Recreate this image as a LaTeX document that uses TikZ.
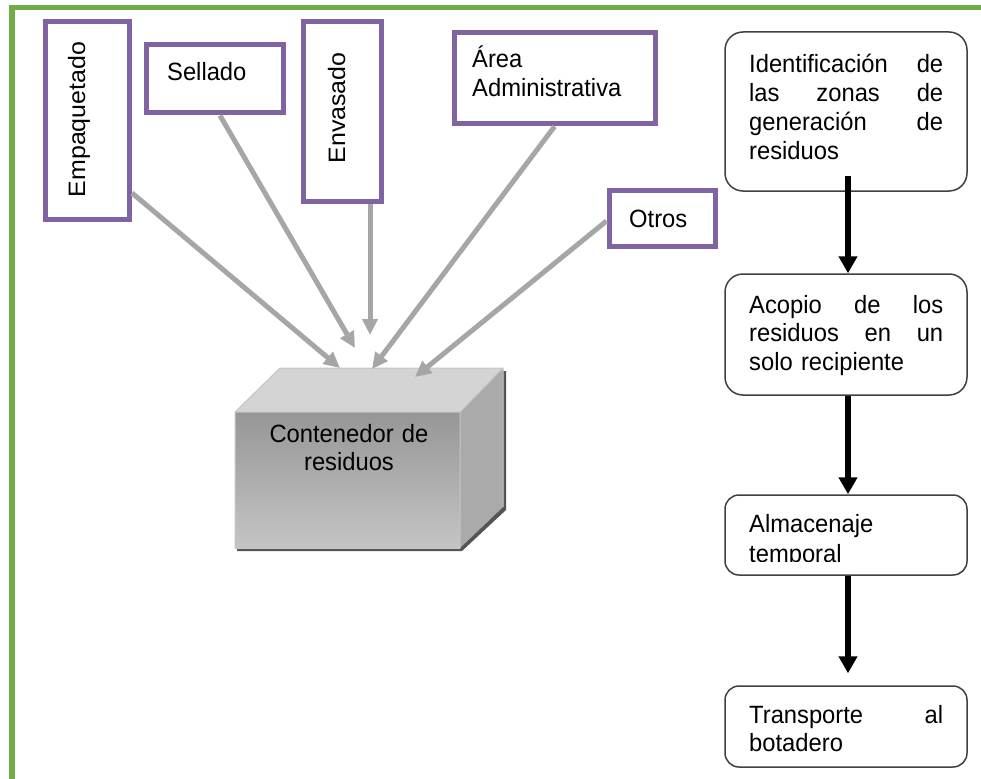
\documentclass[tikz,border=0pt]{standalone}
\usepackage{fontspec}
\setmainfont{Liberation Sans}
\newfontfamily\hf[FakeStretch=0.95]{Liberation Sans}
\newfontfamily\vf[FakeStretch=1.05]{Liberation Sans}
\usetikzlibrary{arrows.meta}

\definecolor{framegreen}{RGB}{112,173,71}
\definecolor{areapurple}{RGB}{128,100,162}
\definecolor{feedgray}{RGB}{166,166,166}
\definecolor{flowline}{RGB}{64,64,64}
\definecolor{boxtop}{RGB}{212,212,212}
\definecolor{boxside}{RGB}{170,170,170}
\definecolor{boxshadow}{RGB}{85,85,85}

\tikzset{
  srcbox/.style={draw=areapurple, line width=5pt, fill=white, inner sep=0pt},
  htext/.style={font=\hf\fontsize{25}{28.7}\selectfont, inner sep=0pt},
  vtext/.style={font=\vf\fontsize{23.75}{28}\selectfont, inner sep=0pt, rotate=90, anchor=base},
  flowbox/.style={draw=flowline, line width=1.5pt, fill=white, minimum width=242pt, inner sep=0pt},
  flowtext/.style={htext, text width=194pt, align=left, anchor=base west},
  feedarrow/.style={draw=feedgray, line width=5pt, -{Triangle[length=16pt,width=15pt]}},
  steparrow/.style={draw=black, line width=6pt, -{Triangle[length=17pt,width=18pt]}},
}

\begin{document}
\begin{tikzpicture}[x=1pt,y=-1pt]
\useasboundingbox (0,0) rectangle (981,778);
\fill[white] (0,0) rectangle (981,778);

% open green frame
\draw[framegreen, line width=5.5pt, line join=miter] (12,790) -- (12,7.5) -- (995,7.5);

% waste sources
\node[srcbox, minimum width=84pt, minimum height=198pt] (emp) at (87.5,120.5) {};
\node[vtext] (empt) at (85,119.5) {Empaquetado};

\node[srcbox, minimum width=137pt, minimum height=68pt] (sel) at (214.5,79) {};
\node[htext, anchor=base west] (selt) at (167,81) {Sellado};

\node[srcbox, minimum width=78pt, minimum height=179pt] (env) at (342,111.5) {};
\node[vtext] (envt) at (345,108) {Envasado};

\node[srcbox, minimum width=201pt, minimum height=91pt] (area) at (554.5,78.5) {};
\node[htext, text width=180pt, align=left, anchor=base west] (areat) at (472,68) {Área\\Administrativa};

\node[srcbox, minimum width=106pt, minimum height=56pt] (otros) at (662,218) {};
\node[htext, anchor=base west] (otrost) at (629,227) {Otros};

% waste container (box drawn in perspective)
\fill[boxshadow] (237,415) -- (282,371) -- (506,371) -- (506,510) -- (462,551) -- (237,551) -- cycle;
\fill[boxtop] (235,412) -- (280,368) -- (503,368) -- (460,412) -- cycle;
\shade[top color=black!41, bottom color=black!23] (235,412) rectangle (460,548);
\fill[boxside] (460,412) -- (503,368) -- (503,507) -- (460,548) -- cycle;
\draw[black!22, line width=1pt, line join=round] (235,548) -- (235,412) -- (460,412) -- (460,548)
  (235,412) -- (280,368) -- (503,368) -- (460,412) (503,368) -- (503,507);
\node[htext, text width=225pt, align=center, anchor=base] (cont) at (349,442) {Contenedor de\\residuos};

\coordinate (t1) at (340,368);
\coordinate (t2) at (355,348);
\coordinate (t3) at (370,335);
\coordinate (t4) at (372,369);
\coordinate (t5) at (415,377);

\draw[feedarrow] ([yshift=29pt]emp.south east) -- (t1);
\draw[feedarrow] ([xshift=5.5pt]sel.south) -- (t2);
\draw[feedarrow] ([xshift=28pt]env.south) -- (t3);
\draw[feedarrow] (area.south) -- (t4);
\draw[feedarrow] ([yshift=-3pt]otros.west) -- (t5);

% handling steps
\node[flowbox, minimum height=159pt, rounded corners=18pt] (b1) at (846,111.5) {};
\node[flowtext] (b1t) at (749,73) {Identificación\hfill de\\las\hfill zonas\hfill de\\generación\hfill de\\residuos};

\node[flowbox, minimum height=121pt, rounded corners=18pt] (b2) at (846,334.5) {};
\node[flowtext] (b2t) at (749,313) {Acopio\hfill de\hfill los\\residuos\hfill en\hfill un\\solo recipiente};

\node[flowbox, minimum height=80pt, rounded corners=14pt] (b3) at (846,535) {};
\begin{scope}
  % the second line runs into the lower edge of the box and is cut there
  \clip (725,495) rectangle (967,561.5);
  \node[flowtext] (b3t) at (749,532) {Almacenaje\\[1.3pt]temporal};
\end{scope}

\node[flowbox, minimum height=81pt, rounded corners=14pt] (b4) at (846,726.5) {};
\node[flowtext] (b4t) at (749,723) {Transporte\hfill al\\botadero};

\draw[steparrow] ([xshift=2pt,yshift=16pt]b1.south) -- ([xshift=2pt]b2.north);
\draw[steparrow] ([xshift=2pt]b2.south) -- ([xshift=2pt]b3.north);
\draw[steparrow] ([xshift=2pt]b3.south) -- ([xshift=2pt,yshift=12pt]b4.north);
\end{tikzpicture}
\end{document}
